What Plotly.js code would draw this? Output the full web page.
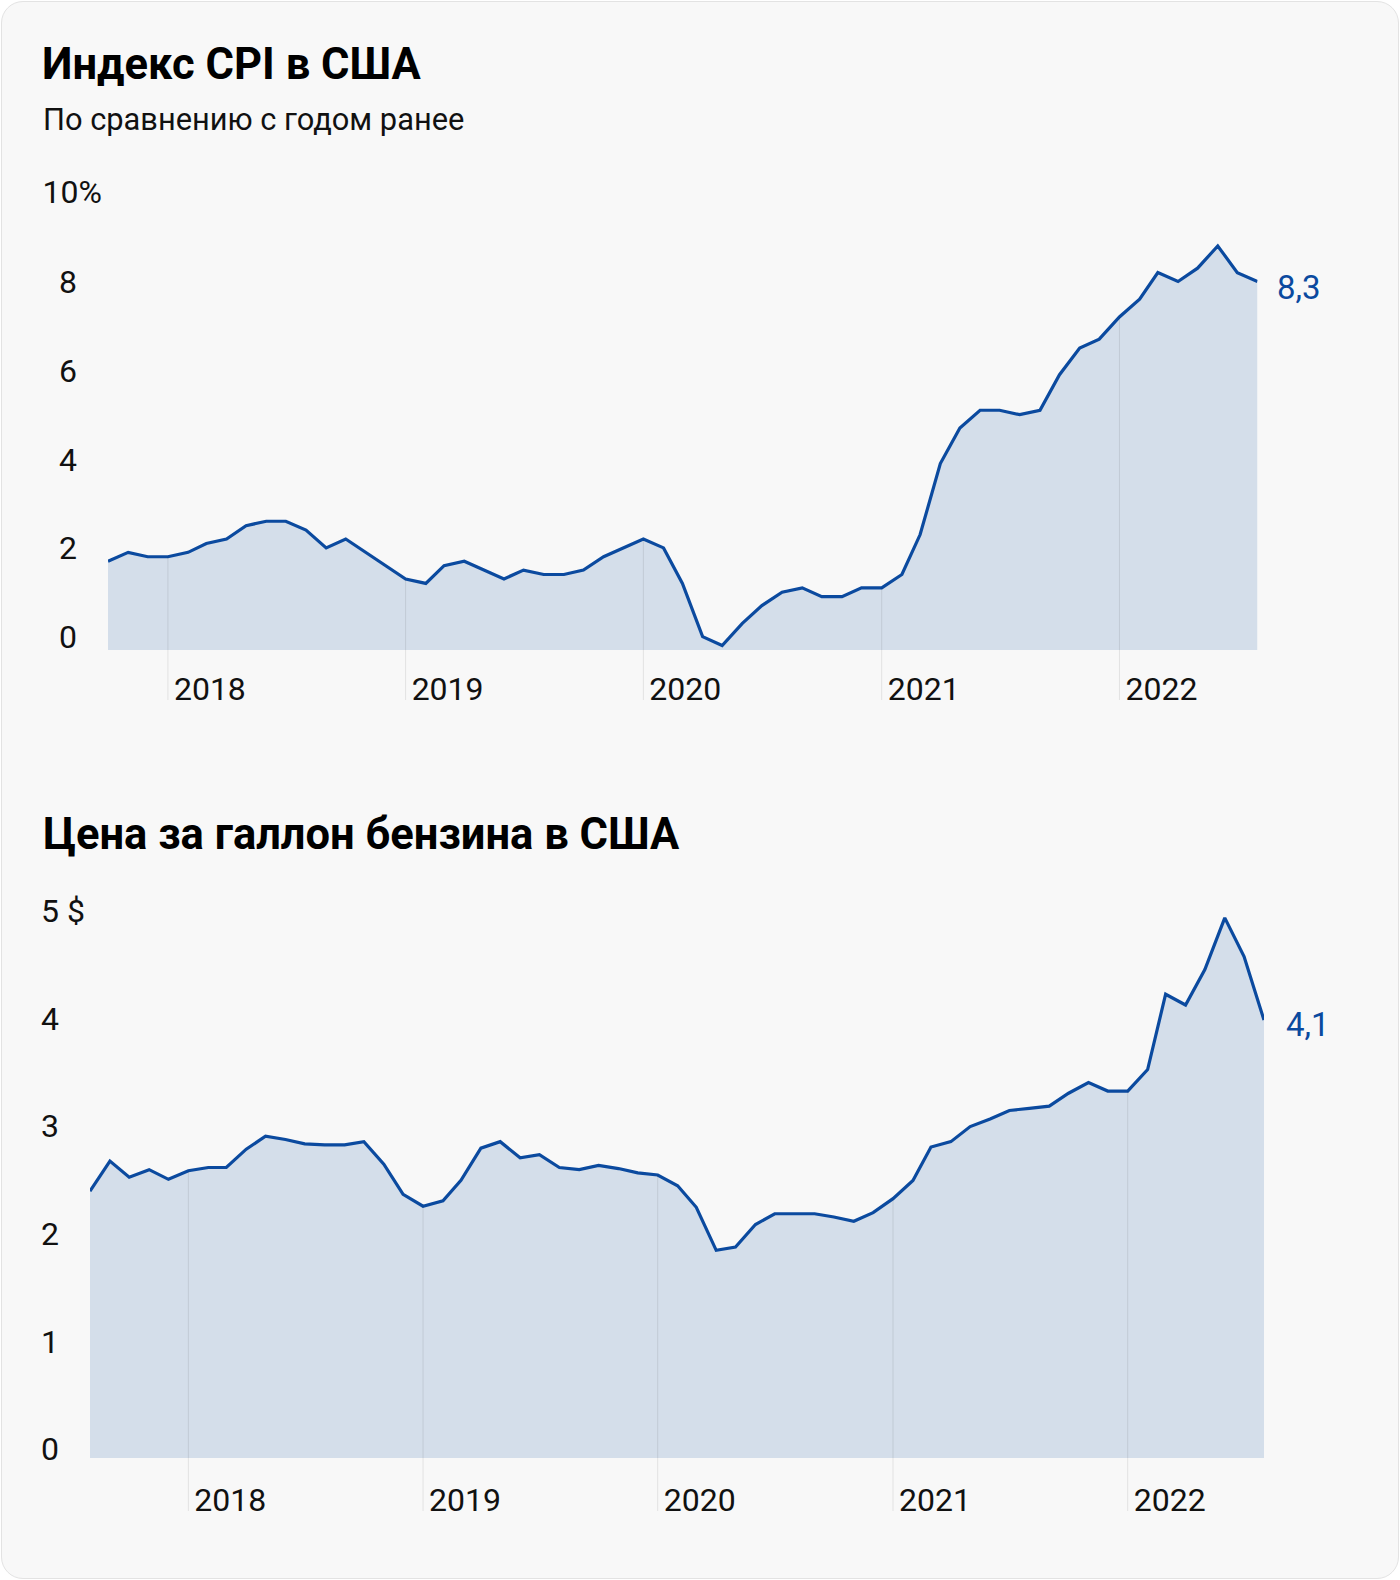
<!DOCTYPE html>
<html>
<head>
<meta charset="utf-8">
<script src="https://cdn.plot.ly/plotly-3.0.1.min.js"></script>
<style>
  html, body { margin: 0; padding: 0; background: #ffffff; }
  #card { position: absolute; left: 1px; top: 1px; width: 1398px; height: 1578px; box-sizing: border-box;
          border: 1.5px solid #e3e3e3; border-radius: 22px; background: #f8f8f8; }
  #chart { position: absolute; left: 0; top: 0; width: 1400px; height: 1580px; }
</style>
</head>
<body>
<div id="card"></div>
<div id="chart"></div>
<script>
// ---------- DATA ----------
const cpiMonths = [
  '2017-10','2017-11','2017-12',
  '2018-01','2018-02','2018-03','2018-04','2018-05','2018-06','2018-07','2018-08','2018-09','2018-10','2018-11','2018-12',
  '2019-01','2019-02','2019-03','2019-04','2019-05','2019-06','2019-07','2019-08','2019-09','2019-10','2019-11','2019-12',
  '2020-01','2020-02','2020-03','2020-04','2020-05','2020-06','2020-07','2020-08','2020-09','2020-10','2020-11','2020-12',
  '2021-01','2021-02','2021-03','2021-04','2021-05','2021-06','2021-07','2021-08','2021-09','2021-10','2021-11','2021-12',
  '2022-01','2022-02','2022-03','2022-04','2022-05','2022-06','2022-07','2022-08'
];
const cpiValues = [
  2.0, 2.2, 2.1,
  2.1, 2.2, 2.4, 2.5, 2.8, 2.9, 2.9, 2.7, 2.3, 2.5, 2.2, 1.9,
  1.6, 1.5, 1.9, 2.0, 1.8, 1.6, 1.8, 1.7, 1.7, 1.8, 2.1, 2.3,
  2.5, 2.3, 1.5, 0.3, 0.1, 0.6, 1.0, 1.3, 1.4, 1.2, 1.2, 1.4,
  1.4, 1.7, 2.6, 4.2, 5.0, 5.4, 5.4, 5.3, 5.4, 6.2, 6.8, 7.0,
  7.5, 7.9, 8.5, 8.3, 8.6, 9.1, 8.5, 8.3
];
const gasMonths = [
  '2017-08','2017-09','2017-10','2017-11','2017-12',
  '2018-01','2018-02','2018-03','2018-04','2018-05','2018-06','2018-07','2018-08','2018-09','2018-10','2018-11','2018-12',
  '2019-01','2019-02','2019-03','2019-04','2019-05','2019-06','2019-07','2019-08','2019-09','2019-10','2019-11','2019-12',
  '2020-01','2020-02','2020-03','2020-04','2020-05','2020-06','2020-07','2020-08','2020-09','2020-10','2020-11','2020-12',
  '2021-01','2021-02','2021-03','2021-04','2021-05','2021-06','2021-07','2021-08','2021-09','2021-10','2021-11','2021-12',
  '2022-01','2022-02','2022-03','2022-04','2022-05','2022-06','2022-07','2022-08'
];
const gasValues = [
  2.48, 2.76, 2.61, 2.68, 2.59,
  2.67, 2.70, 2.70, 2.87, 2.99, 2.96, 2.92, 2.91, 2.91, 2.94, 2.73, 2.45,
  2.34, 2.39, 2.58, 2.88, 2.94, 2.79, 2.82, 2.70, 2.68, 2.72, 2.69, 2.65,
  2.63, 2.53, 2.33, 1.93, 1.96, 2.17, 2.27, 2.27, 2.27, 2.24, 2.20, 2.28,
  2.41, 2.58, 2.89, 2.94, 3.08, 3.15, 3.23, 3.25, 3.27, 3.39, 3.49, 3.41,
  3.41, 3.61, 4.31, 4.21, 4.54, 5.02, 4.66, 4.07
];
const yearTickMonths = ['2018-01','2019-01','2020-01','2021-01','2022-01'];
const yearTickLabels = ['2018','2019','2020','2021','2022'];
const cpiTickVals = [0, 2, 4, 6, 8];
const cpiTickText = ['0', '2', '4', '6', '8'];
const cpiTopTickVal = [10];
const cpiTopTickText = ['10%'];
const gasTickVals = [0, 1, 2, 3, 4];
const gasTickText = ['0', '1', '2', '3', '4'];
const gasTopTickVal = [5];
const gasTopTickText = ['5 $'];
const titleCpi = 'Индекс CPI в США';
const subtitleCpi = 'По сравнению с годом ранее';
const titleGas = 'Цена за галлон бензина в США';

// ---------- STYLE ----------
const W = 1400, H = 1580;
const LINE = '#0b4a9f';
const FILL = '#d4deea';
const GRID = 'rgba(0,0,0,0.09)';
const FONT = 'Roboto, "Noto Sans", sans-serif';
const TXT = '#111111';
const toDate = m => m + '-01';
const px = v => v / W;
const py = v => 1 - v / H;

// top chart geometry (px)
const top1 = 180, bot1 = 700, base1 = 650, unit1 = 44.4;
const c1Range = [-(bot1 - base1) / unit1, (base1 - top1) / unit1];
// bottom chart geometry (px)
const top2 = 880, bot2 = 1511, base2 = 1458, unit2 = 107.6;
const c2Range = [-(bot2 - base2) / unit2, (base2 - top2) / unit2];

const tickFont = {family: FONT, size: 32, color: TXT};

const traces = [
  {x: cpiMonths.map(toDate), y: cpiValues, type: 'scatter', mode: 'lines',
   line: {color: LINE, width: 3.2}, fill: 'tozeroy', fillcolor: FILL,
   xaxis: 'x', yaxis: 'y', hoverinfo: 'skip', showlegend: false},
  {x: gasMonths.map(toDate), y: gasValues, type: 'scatter', mode: 'lines',
   line: {color: LINE, width: 3.2}, fill: 'tozeroy', fillcolor: FILL,
   xaxis: 'x2', yaxis: 'y2', hoverinfo: 'skip', showlegend: false},
  {x: [], y: [], xaxis: 'x', yaxis: 'y3', showlegend: false, hoverinfo: 'skip'},
  {x: [], y: [], xaxis: 'x2', yaxis: 'y4', showlegend: false, hoverinfo: 'skip'}
];

// year marker lines, from below the axis up to the series value at that month
function yearLines(months, values, xref, yref, yMin) {
  return yearTickMonths.map(m => {
    const i = months.indexOf(m);
    return {type: 'line', xref: xref, yref: yref, x0: toDate(m), x1: toDate(m),
            y0: yMin, y1: values[i], line: {color: GRID, width: 1}, layer: 'above'};
  });
}

const commonY = {showgrid: false, zeroline: false, showline: false, ticks: '', tickfont: tickFont, fixedrange: true};
const commonX = {type: 'date', showgrid: false, zeroline: false, showline: false, ticks: '',
                 tickmode: 'array', tickvals: yearTickMonths.map(toDate), ticktext: yearTickLabels,
                 ticklabelposition: 'inside right', ticklabelshift: 6, ticklabelstandoff: -12,
                 tickfont: tickFont, fixedrange: true};

const fmt = v => v.toFixed(1).replace('.', ',');

const layout = {
  width: W, height: H,
  margin: {l: 0, r: 0, t: 0, b: 0},
  paper_bgcolor: 'rgba(0,0,0,0)', plot_bgcolor: 'rgba(0,0,0,0)',
  showlegend: false,
  title: {text: titleCpi, x: px(42), xanchor: 'left', xref: 'paper', y: py(63.5), yanchor: 'middle', yref: 'paper',
          font: {family: FONT, size: 43.5, color: '#000', weight: 700}},
  xaxis: Object.assign({}, commonX, {domain: [px(108), px(1257.5)], range: [toDate(cpiMonths[0]), toDate(cpiMonths[cpiMonths.length - 1])], anchor: 'y'}),
  yaxis: Object.assign({}, commonY, {domain: [py(bot1), py(top1)], range: c1Range, anchor: 'x',
          tickmode: 'array', tickvals: cpiTickVals, ticktext: cpiTickText, ticklabelstandoff: 30, ticklabelshift: -13}),
  yaxis3: Object.assign({}, commonY, {overlaying: 'y', side: 'left', range: c1Range, anchor: 'x',
          tickmode: 'array', tickvals: cpiTopTickVal, ticktext: cpiTopTickText, ticklabelstandoff: 5, ticklabelshift: -14}),
  xaxis2: Object.assign({}, commonX, {domain: [px(90), px(1264)], range: [toDate(gasMonths[0]), toDate(gasMonths[gasMonths.length - 1])], anchor: 'y2'}),
  yaxis2: Object.assign({}, commonY, {domain: [py(bot2), py(top2)], range: c2Range, anchor: 'x2',
          tickmode: 'array', tickvals: gasTickVals, ticktext: gasTickText, ticklabelstandoff: 30, ticklabelshift: -9}),
  yaxis4: Object.assign({}, commonY, {overlaying: 'y2', side: 'left', range: c2Range, anchor: 'x2',
          tickmode: 'array', tickvals: gasTopTickVal, ticktext: gasTopTickText, ticklabelstandoff: 4, ticklabelshift: -9}),
  shapes: [].concat(
    yearLines(cpiMonths, cpiValues, 'x', 'y', c1Range[0]),
    yearLines(gasMonths, gasValues, 'x2', 'y2', c2Range[0])
  ),
  annotations: [
    {text: subtitleCpi, xref: 'paper', yref: 'paper', x: px(41), y: py(120), xanchor: 'left', yanchor: 'middle',
     showarrow: false, font: {family: FONT, size: 30.8, color: TXT}},
    {text: titleGas, xref: 'paper', yref: 'paper', x: px(41), y: py(834), xanchor: 'left', yanchor: 'middle',
     showarrow: false, font: {family: FONT, size: 43.5, color: '#000', weight: 700}},
    {text: fmt(cpiValues[cpiValues.length - 1]), xref: 'x', yref: 'y',
     x: toDate(cpiMonths[cpiMonths.length - 1]), y: cpiValues[cpiValues.length - 1],
     xanchor: 'left', yanchor: 'middle', xshift: 17, yshift: -6, showarrow: false,
     font: {family: FONT, size: 33, color: LINE}},
    {text: fmt(gasValues[gasValues.length - 1]), xref: 'x2', yref: 'y2',
     x: toDate(gasMonths[gasMonths.length - 1]), y: gasValues[gasValues.length - 1],
     xanchor: 'left', yanchor: 'middle', xshift: 20, yshift: -4, showarrow: false,
     font: {family: FONT, size: 33, color: LINE}}
  ]
};

Plotly.newPlot('chart', traces, layout, {staticPlot: true, displayModeBar: false});
</script>
</body>
</html>
